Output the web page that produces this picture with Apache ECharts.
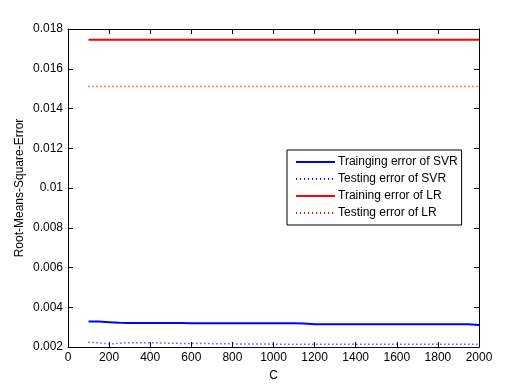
<!DOCTYPE html>
<html><head><meta charset="utf-8">
<script src="https://cdn.jsdelivr.net/npm/echarts@6/dist/echarts.min.js"></script>
<style>html,body{margin:0;padding:0;background:#fff}#c{width:529px;height:390px}</style>
</head><body><div id="c"></div>
<script>
const C = [100,150,200,250,300,350,400,450,500,550,600,650,700,750,800,850,900,950,1000,1050,1100,1150,1200,1250,1300,1350,1400,1450,1500,1550,1600,1650,1700,1750,1800,1850,1900,1950,2000];
const svrTrain = [0.00328,0.00328,0.00325,0.00322,0.00321,0.00321,0.00321,0.00321,0.00321,0.00321,0.00319,0.00319,0.00319,0.00319,0.00319,0.00319,0.00319,0.00319,0.00319,0.00319,0.00319,0.00318,0.00315,0.00315,0.00315,0.00315,0.00315,0.00315,0.00315,0.00315,0.00315,0.00315,0.00315,0.00315,0.00315,0.00315,0.00315,0.00314,0.00311];
const svrTest = [0.00224,0.00221,0.00215,0.00219,0.00222,0.00222,0.00222,0.00220,0.00219,0.00218,0.00218,0.00217,0.00217,0.00216,0.00216,0.00215,0.00215,0.00215,0.00214,0.00214,0.00214,0.00214,0.00214,0.00214,0.00214,0.00214,0.00214,0.00214,0.00214,0.00214,0.00214,0.00214,0.00214,0.00214,0.00214,0.00214,0.00214,0.00214,0.00214];
const lrTrain = C.map(() => 0.01746);
const lrTest = C.map(() => 0.01511);
const names = ['Trainging error of SVR','Testing error of SVR','Training error of LR','Testing error of LR'];
const xTicks = [0,200,400,600,800,1000,1200,1400,1600,1800,2000];
const yTicks = [0.002,0.004,0.006,0.008,0.01,0.012,0.014,0.016,0.018];

const font = 'Arial, "Liberation Sans", sans-serif';
const pair = (ys) => C.map((x,i) => [x, ys[i]]);
const mk = (name, ys, color, type, width) => ({
  name, type:'line', data: pair(ys), showSymbol:false, symbol:'none',
  lineStyle:{color, type, width}, itemStyle:{color}, animation:false
});
const chart = echarts.init(document.getElementById('c'), null, {renderer:'canvas'});
const axisCommon = {
  axisLine:{show:true, onZero:false, lineStyle:{color:'#000', width:1}},
  axisTick:{show:true, inside:true, length:5, lineStyle:{color:'#000'}},
  splitLine:{show:false}
};
chart.setOption({
  backgroundColor:'#fff',
  animation:false,
  grid:{left:68, right:50, top:29, bottom:43},
  xAxis:[
    Object.assign({type:'value', min:0, max:2000, interval:200, position:'bottom',
      name:'C', nameLocation:'middle', nameGap:23, nameMoveOverlap:false,
      nameTextStyle:{fontFamily:font, fontSize:12, color:'#000'},
      axisLabel:{fontFamily:font, fontSize:12, color:'#000', margin:5,
        formatter:(v)=>{const s=xTicks.find(t=>Math.abs(t-v)<1e-6); return s===undefined?'':String(s);}}}, axisCommon),
    Object.assign({type:'value', min:0, max:2000, interval:200, position:'top',
      axisLabel:{show:false}}, axisCommon)
  ],
  yAxis:[
    Object.assign({type:'value', min:0.002, max:0.018, interval:0.002, position:'left',
      name:'Root-Means-Square-Error', nameLocation:'middle', nameGap:42, nameMoveOverlap:false,
      nameTextStyle:{fontFamily:font, fontSize:12, color:'#000'},
      axisLabel:{fontFamily:font, fontSize:12, color:'#000', margin:5,
        formatter:(v)=>{const s=yTicks.find(t=>Math.abs(t-v)<1e-9); return s===undefined?'':String(+s.toFixed(3));}}}, axisCommon),
    Object.assign({type:'value', min:0.002, max:0.018, interval:0.002, position:'right',
      axisLabel:{show:false}}, axisCommon)
  ],
  legend:{
    data:names, orient:'vertical', left:287, top:150, width:173,
    backgroundColor:'#fff', borderColor:'#000', borderWidth:1, borderRadius:0,
    padding:[6,4,6,8], itemGap:5, itemWidth:39, itemHeight:14,
    itemStyle:{opacity:0},
    textStyle:{fontFamily:font, fontSize:12, color:'#000', padding:[0,0,0,-2]}
  },
  series:[
    mk(names[0], svrTrain, '#0000ff', 'solid', 2),
    mk(names[1], svrTest, '#0000ff', [1,3], 1.5),
    mk(names[2], lrTrain, '#ff0000', 'solid', 2),
    mk(names[3], lrTest, '#ff0000', [1,3], 1.5)
  ]
});
</script></body></html>
